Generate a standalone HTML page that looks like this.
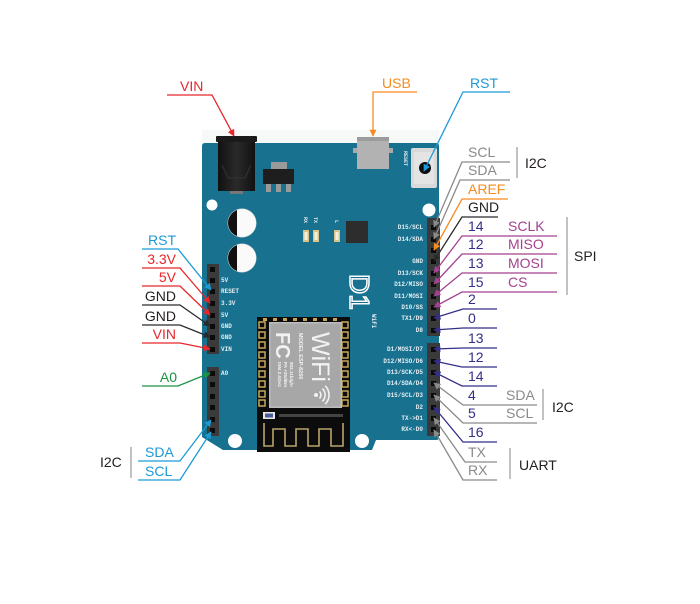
<!DOCTYPE html>
<html>
<head>
<meta charset="utf-8">
<style>
  html,body{margin:0;padding:0;background:#fff;}
  svg{display:block;}
  .lbl{font-family:"Liberation Sans",Arial,sans-serif;font-size:14px;}
  .pin{font-family:"Liberation Mono",monospace;font-size:6px;font-weight:bold;fill:#e6eef2;}
</style>
</head>
<body>
<svg width="700" height="604" viewBox="0 0 700 604" xmlns="http://www.w3.org/2000/svg">
  <defs>
    <marker id="mRed" viewBox="0 0 10 10" refX="9" refY="5" markerWidth="8" markerHeight="7" orient="auto" markerUnits="userSpaceOnUse"><path d="M0,0 L10,5 L0,10 z" fill="#e8262b"/></marker>
    <marker id="mBlue" viewBox="0 0 10 10" refX="9" refY="5" markerWidth="8" markerHeight="7" orient="auto" markerUnits="userSpaceOnUse"><path d="M0,0 L10,5 L0,10 z" fill="#1c9ad6"/></marker>
    <marker id="mOrange" viewBox="0 0 10 10" refX="9" refY="5" markerWidth="8" markerHeight="7" orient="auto" markerUnits="userSpaceOnUse"><path d="M0,0 L10,5 L0,10 z" fill="#f68b1f"/></marker>
    <marker id="mGray" viewBox="0 0 10 10" refX="9" refY="5" markerWidth="8" markerHeight="7" orient="auto" markerUnits="userSpaceOnUse"><path d="M0,0 L10,5 L0,10 z" fill="#8a8a8a"/></marker>
    <marker id="mBlack" viewBox="0 0 10 10" refX="9" refY="5" markerWidth="8" markerHeight="7" orient="auto" markerUnits="userSpaceOnUse"><path d="M0,0 L10,5 L0,10 z" fill="#2a2a2a"/></marker>
    <marker id="mMag" viewBox="0 0 10 10" refX="9" refY="5" markerWidth="8" markerHeight="7" orient="auto" markerUnits="userSpaceOnUse"><path d="M0,0 L10,5 L0,10 z" fill="#a3428f"/></marker>
    <marker id="mNavy" viewBox="0 0 10 10" refX="9" refY="5" markerWidth="8" markerHeight="7" orient="auto" markerUnits="userSpaceOnUse"><path d="M0,0 L10,5 L0,10 z" fill="#332f88"/></marker>
    <marker id="mGreen" viewBox="0 0 10 10" refX="9" refY="5" markerWidth="8" markerHeight="7" orient="auto" markerUnits="userSpaceOnUse"><path d="M0,0 L10,5 L0,10 z" fill="#1a9345"/></marker>
    <linearGradient id="jack" x1="0" x2="1" y1="0" y2="0">
      <stop offset="0" stop-color="#111"/><stop offset="0.5" stop-color="#2a2a2a"/><stop offset="1" stop-color="#111"/>
    </linearGradient>
    <clipPath id="cap1"><circle cx="242" cy="223" r="14"/></clipPath>
    <clipPath id="cap2"><circle cx="242" cy="258" r="14"/></clipPath>
  </defs>

  <!-- faint shadow above board -->
  <rect x="202" y="130" width="237" height="13" fill="#f7f8f8"/>

  <!-- Board -->
  <path d="M205,143 H436 Q439,143 439,146 V437 Q439,440 436,440 H376 L372,450 H223 L202,437 V146 Q202,143 205,143 Z" fill="#17718f"/>

  <!-- DC jack -->
  <rect x="230" y="188" width="13" height="6" fill="#777"/>
  <rect x="218" y="140" width="37" height="51" fill="url(#jack)"/>
  <rect x="216" y="136" width="41" height="6" rx="1" fill="#1a1a1a"/>
  <path d="M222,165 L228,178 H245 L251,165" stroke="#333" stroke-width="1" fill="none"/>

  <!-- regulator -->
  <rect x="271" y="162" width="16" height="8" fill="#9a9a9a"/>
  <rect x="263" y="169" width="31" height="15" fill="#1e1e1e"/>
  <rect x="266" y="184" width="5" height="8" fill="#9a9a9a"/>
  <rect x="276" y="184" width="5" height="8" fill="#9a9a9a"/>
  <rect x="286" y="184" width="5" height="8" fill="#9a9a9a"/>

  <!-- USB -->
  <rect x="353" y="148" width="40" height="5" fill="#a8a8a8"/>
  <rect x="357" y="137" width="32" height="32" fill="#b2b2b2"/>
  <rect x="357" y="137" width="32" height="4" fill="#9c9c9c"/>

  <!-- reset button -->
  <rect x="411" y="148" width="26" height="40" rx="2" fill="#d9d9d9"/>
  <rect x="414" y="152" width="20" height="32" fill="#e4e4e4"/>
  <circle cx="425" cy="168" r="6" fill="#0d0d0d"/>
  <text class="pin" style="font-size:5px" transform="translate(404,151) rotate(90)">RESET</text>

  <!-- mounting holes -->
  <circle cx="212" cy="205" r="5.5" fill="#fff"/>
  <circle cx="429" cy="210" r="6.5" fill="#fff"/>
  <circle cx="235" cy="441" r="7" fill="#fff"/>
  <circle cx="362" cy="441" r="7" fill="#fff"/>

  <!-- capacitors -->
  <circle cx="242" cy="223" r="14.5" fill="#cfd6d8"/>
  <circle cx="242" cy="223" r="14" fill="#fafafa"/>
  <rect x="226" y="208" width="11" height="30" fill="#111" clip-path="url(#cap1)"/>
  <circle cx="242" cy="258" r="14.5" fill="#cfd6d8"/>
  <circle cx="242" cy="258" r="14" fill="#fafafa"/>
  <rect x="226" y="243" width="11" height="30" fill="#111" clip-path="url(#cap2)"/>

  <!-- LEDs -->
  <text class="pin" style="font-size:5px" transform="translate(304,217) rotate(90)">RX</text>
  <text class="pin" style="font-size:5px" transform="translate(314,217) rotate(90)">TX</text>
  <text class="pin" style="font-size:5px" transform="translate(335,220) rotate(90)">L</text>
  <rect x="303" y="230" width="6" height="12" fill="#d8c38a"/><rect x="304.5" y="232" width="3" height="8" fill="#f4efe0"/>
  <rect x="313" y="230" width="6" height="12" fill="#d8c38a"/><rect x="314.5" y="232" width="3" height="8" fill="#f4efe0"/>
  <rect x="334" y="230" width="6" height="12" fill="#d8c38a"/><rect x="335.5" y="232" width="3" height="8" fill="#f4efe0"/>
  <rect x="346" y="221" width="22" height="22" fill="#2d2d2d"/>

  <!-- D1 logo -->
  <text transform="translate(350,274) rotate(90)" style="font-family:'Liberation Sans',sans-serif;font-size:28px;fill:none;stroke:#fff;stroke-width:1.5;">D1</text>
  <text class="pin" style="font-size:6px" transform="translate(372,314) rotate(90)">WiFi</text>

  <!-- Headers left -->
  <rect x="207" y="264" width="12" height="90" fill="#3a3a3a"/>
  <rect x="207" y="367" width="12" height="69" fill="#3a3a3a"/>
  <g fill="#0b0b0b">
    <rect x="210" y="267" width="5" height="5"/><rect x="210" y="278" width="5" height="5"/>
    <rect x="210" y="289" width="5" height="5"/><rect x="210" y="301" width="5" height="5"/>
    <rect x="210" y="313" width="5" height="5"/><rect x="210" y="324" width="5" height="5"/>
    <rect x="210" y="335" width="5" height="5"/><rect x="210" y="347" width="5" height="5"/>
    <rect x="210" y="371" width="5" height="5"/><rect x="210" y="382" width="5" height="5"/>
    <rect x="210" y="394" width="5" height="5"/><rect x="210" y="405" width="5" height="5"/>
    <rect x="210" y="417" width="5" height="5"/><rect x="210" y="428" width="5" height="5"/>
  </g>
  <g class="pin">
    <text x="221" y="282">5V</text>
    <text x="221" y="293">RESET</text>
    <text x="221" y="305">3.3V</text>
    <text x="221" y="317">5V</text>
    <text x="221" y="328">GND</text>
    <text x="221" y="339">GND</text>
    <text x="221" y="351">VIN</text>
    <text x="221" y="375">A0</text>
  </g>

  <!-- Headers right -->
  <rect x="427" y="218" width="13" height="118" fill="#3a3a3a"/>
  <rect x="427" y="343" width="13" height="93" fill="#3a3a3a"/>
  <g fill="#0b0b0b">
    <rect x="431" y="225" width="5" height="5"/><rect x="431" y="237" width="5" height="5"/>
    <rect x="431" y="248" width="5" height="5"/><rect x="431" y="259" width="5" height="5"/>
    <rect x="431" y="271" width="5" height="5"/><rect x="431" y="282" width="5" height="5"/>
    <rect x="431" y="294" width="5" height="5"/><rect x="431" y="305" width="5" height="5"/>
    <rect x="431" y="316" width="5" height="5"/><rect x="431" y="328" width="5" height="5"/>
    <rect x="431" y="347" width="5" height="5"/><rect x="431" y="359" width="5" height="5"/>
    <rect x="431" y="370" width="5" height="5"/><rect x="431" y="381" width="5" height="5"/>
    <rect x="431" y="393" width="5" height="5"/><rect x="431" y="405" width="5" height="5"/>
    <rect x="431" y="416" width="5" height="5"/><rect x="431" y="427" width="5" height="5"/>
  </g>
  <g class="pin" text-anchor="end">
    <text x="423" y="229">D15/SCL</text>
    <text x="423" y="241">D14/SDA</text>
    <text x="423" y="263">GND</text>
    <text x="423" y="275">D13/SCK</text>
    <text x="423" y="286">D12/MISO</text>
    <text x="423" y="298">D11/MOSI</text>
    <text x="423" y="309">D10/SS</text>
    <text x="423" y="320">TX1/D9</text>
    <text x="423" y="332">D8</text>
    <text x="423" y="351">D1/MOSI/D7</text>
    <text x="423" y="363">D12/MISO/D6</text>
    <text x="423" y="374">D13/SCK/D5</text>
    <text x="423" y="385">D14/SDA/D4</text>
    <text x="423" y="397">D15/SCL/D3</text>
    <text x="423" y="409">D2</text>
    <text x="423" y="420">TX-&gt;D1</text>
    <text x="423" y="431">RX&lt;-D0</text>
  </g>

  <!-- ESP module -->
  <rect x="257" y="317" width="93" height="135" fill="#0c0c0c"/>
  <g fill="none" stroke="#c8a85a" stroke-width="1.5">
    <rect x="259" y="322" width="6" height="6"/><rect x="259" y="332" width="6" height="6"/>
    <rect x="259" y="342" width="6" height="6"/><rect x="259" y="352" width="6" height="6"/>
    <rect x="259" y="361" width="6" height="6"/><rect x="259" y="371" width="6" height="6"/>
    <rect x="259" y="381" width="6" height="6"/><rect x="259" y="391" width="6" height="6"/>
    <rect x="259" y="400" width="6" height="6"/>
    <rect x="342" y="322" width="6" height="6"/><rect x="342" y="332" width="6" height="6"/>
    <rect x="342" y="342" width="6" height="6"/><rect x="342" y="352" width="6" height="6"/>
    <rect x="342" y="361" width="6" height="6"/><rect x="342" y="371" width="6" height="6"/>
    <rect x="342" y="381" width="6" height="6"/><rect x="342" y="391" width="6" height="6"/>
    <rect x="342" y="400" width="6" height="6"/>
  </g>
  <g fill="#c8a85a">
    <rect x="263" y="318" width="4" height="3"/><rect x="273" y="318" width="4" height="3"/>
    <rect x="283" y="318" width="4" height="3"/><rect x="293" y="318" width="4" height="3"/>
    <rect x="303" y="318" width="4" height="3"/><rect x="313" y="318" width="4" height="3"/>
    <rect x="323" y="318" width="4" height="3"/><rect x="333" y="318" width="4" height="3"/>
  </g>
  <rect x="269" y="322" width="73" height="86" fill="#bcbcbc"/>
  <rect x="270.5" y="323.5" width="70" height="83" fill="#a7a7a7"/>
  <text transform="translate(312,332) rotate(90)" style="font-family:'Liberation Sans',sans-serif;font-size:25px;fill:#f2f2f2;">WiFi</text>
  <text transform="translate(276,332) rotate(90)" style="font-family:'Liberation Sans',sans-serif;font-size:20px;font-weight:bold;fill:#f2f2f2;">FC</text>
  <text transform="translate(299,333) rotate(90)" style="font-family:'Liberation Sans',sans-serif;font-size:5.5px;font-weight:bold;fill:#f2f2f2;">MODEL  ESP-8266</text>
  <text transform="translate(278,362) rotate(90)" style="font-family:'Liberation Sans',sans-serif;font-size:4.6px;font-weight:bold;fill:#f2f2f2;">ISM 2.4GHz</text>
  <text transform="translate(284,362) rotate(90)" style="font-family:'Liberation Sans',sans-serif;font-size:4.6px;font-weight:bold;fill:#f2f2f2;">PA +25dBm</text>
  <text transform="translate(290,362) rotate(90)" style="font-family:'Liberation Sans',sans-serif;font-size:4.6px;font-weight:bold;fill:#f2f2f2;">802.11b/g/n</text>
  <circle cx="316" cy="395" r="2" fill="#f2f2f2"/>
  <g fill="none" stroke="#f2f2f2" stroke-width="1.6">
    <path d="M319.5,391.5 A5,5 0 0 1 319.5,398.5"/>
    <path d="M322.4,388.6 A9,9 0 0 1 322.4,401.4"/>
    <path d="M325.2,385.8 A13,13 0 0 1 325.2,404.2"/>
  </g>
  <rect x="263" y="412" width="12" height="7" fill="#e8e8e8"/>
  <rect x="265" y="413.5" width="8" height="4" fill="#4a5a9a"/>
  <g fill="#444">
    <rect x="279" y="414" width="64" height="3"/>
  </g>
  <path d="M264,423 V446 H273 V429 H285 V446 H296 V429 H308 V446 H319 V429 H331 V446 H343 V423" fill="none" stroke="#b8a46c" stroke-width="1.6"/>

  <!-- ===== Connectors ===== -->
  <g fill="none" stroke-width="1.3">
    <!-- top -->
    <path d="M167,95 H212 L234,136" stroke="#e8262b" marker-end="url(#mRed)"/>
    <path d="M417,92 H373 V136" stroke="#f68b1f" marker-end="url(#mOrange)"/>
    <path d="M510,92 H463 L424,171" stroke="#1c9ad6" marker-end="url(#mBlue)"/>
    <!-- left -->
    <path d="M142,249 H178 L211,290" stroke="#1c9ad6" marker-end="url(#mBlue)"/>
    <path d="M142,268 H180 L210,303" stroke="#e8262b" marker-end="url(#mRed)"/>
    <path d="M142,286 H180 L210,315" stroke="#e8262b" marker-end="url(#mRed)"/>
    <path d="M142,305 H180 L210,326" stroke="#2a2a2a" marker-end="url(#mBlack)"/>
    <path d="M142,325 H180 L210,337" stroke="#2a2a2a" marker-end="url(#mBlack)"/>
    <path d="M142,343 H180 L210,349" stroke="#e8262b" marker-end="url(#mRed)"/>
    <path d="M142,386 H178 L210,373" stroke="#1a9345" marker-end="url(#mGreen)"/>
    <path d="M138,461 H180 L211,420" stroke="#1c9ad6" marker-end="url(#mBlue)"/>
    <path d="M138,480 H180 L211,432" stroke="#1c9ad6" marker-end="url(#mBlue)"/>
    <!-- right -->
    <path d="M510,162 H462 L434,227" stroke="#8a8a8a" marker-end="url(#mGray)"/>
    <path d="M510,180 H460 L434,239" stroke="#8a8a8a" marker-end="url(#mGray)"/>
    <path d="M508,199 H462 L434,250" stroke="#f68b1f" marker-end="url(#mOrange)"/>
    <path d="M498,217 H462 L434,261" stroke="#2a2a2a" marker-end="url(#mBlack)"/>
    <path d="M557,236 H462 L434,273" stroke="#a3428f" marker-end="url(#mMag)"/>
    <path d="M557,254 H462 L434,284" stroke="#a3428f" marker-end="url(#mMag)"/>
    <path d="M557,273 H462 L434,296" stroke="#a3428f" marker-end="url(#mMag)"/>
    <path d="M557,292 H462 L434,307" stroke="#a3428f" marker-end="url(#mMag)"/>
    <path d="M497,309 H463 L434,318" stroke="#332f88" marker-end="url(#mNavy)"/>
    <path d="M497,328 H463 L434,330" stroke="#332f88" marker-end="url(#mNavy)"/>
    <path d="M497,348 H463 L434,349" stroke="#332f88" marker-end="url(#mNavy)"/>
    <path d="M497,367 H462 L434,361" stroke="#332f88" marker-end="url(#mNavy)"/>
    <path d="M497,386 H462 L434,372" stroke="#332f88" marker-end="url(#mNavy)"/>
    <path d="M537,405 H463 L434,383" stroke="#8a8a8a" marker-end="url(#mGray)"/>
    <path d="M537,423 H463 L434,395" stroke="#8a8a8a" marker-end="url(#mGray)"/>
    <path d="M497,442 H463 L434,407" stroke="#332f88" marker-end="url(#mNavy)"/>
    <path d="M497,462 H465 L434,418" stroke="#8a8a8a" marker-end="url(#mGray)"/>
    <path d="M497,480 H463 L434,430" stroke="#8a8a8a" marker-end="url(#mGray)"/>
  </g>

  <!-- group bars -->
  <g stroke="#9a9a9a" stroke-width="1.2">
    <line x1="517" y1="147" x2="517" y2="178"/>
    <line x1="567" y1="217" x2="567" y2="295"/>
    <line x1="543" y1="389" x2="543" y2="420"/>
    <line x1="510" y1="448" x2="510" y2="479"/>
    <line x1="131" y1="447" x2="131" y2="478"/>
  </g>

  <!-- ===== Labels ===== -->
  <g class="lbl">
    <!-- top -->
    <text x="180" y="91" fill="#e8262b">VIN</text>
    <text x="382" y="88" fill="#f68b1f">USB</text>
    <text x="470" y="88" fill="#1c9ad6">RST</text>
    <!-- left -->
    <g text-anchor="end">
      <text x="176" y="245" fill="#1c9ad6">RST</text>
      <text x="176" y="264" fill="#e8262b">3.3V</text>
      <text x="176" y="282" fill="#e8262b">5V</text>
      <text x="176" y="301" fill="#231f20">GND</text>
      <text x="176" y="321" fill="#231f20">GND</text>
      <text x="176" y="339" fill="#e8262b">VIN</text>
      <text x="177" y="382" fill="#1a9345">A0</text>
    </g>
    <text x="145" y="457" fill="#1c9ad6">SDA</text>
    <text x="145" y="476" fill="#1c9ad6">SCL</text>
    <text x="100" y="467" fill="#231f20">I2C</text>
    <!-- right -->
    <text x="468" y="157" fill="#8a8a8a">SCL</text>
    <text x="468" y="175" fill="#8a8a8a">SDA</text>
    <text x="468" y="194" fill="#f68b1f">AREF</text>
    <text x="468" y="212" fill="#231f20">GND</text>
    <text x="468" y="231" fill="#332f88">14</text>
    <text x="508" y="231" fill="#a3428f">SCLK</text>
    <text x="468" y="249" fill="#332f88">12</text>
    <text x="508" y="249" fill="#a3428f">MISO</text>
    <text x="468" y="268" fill="#332f88">13</text>
    <text x="508" y="268" fill="#a3428f">MOSI</text>
    <text x="468" y="287" fill="#332f88">15</text>
    <text x="508" y="287" fill="#a3428f">CS</text>
    <text x="468" y="304" fill="#332f88">2</text>
    <text x="468" y="323" fill="#332f88">0</text>
    <text x="468" y="343" fill="#332f88">13</text>
    <text x="468" y="362" fill="#332f88">12</text>
    <text x="468" y="381" fill="#332f88">14</text>
    <text x="468" y="400" fill="#332f88">4</text>
    <text x="506" y="400" fill="#8a8a8a">SDA</text>
    <text x="468" y="418" fill="#332f88">5</text>
    <text x="506" y="418" fill="#8a8a8a">SCL</text>
    <text x="468" y="437" fill="#332f88">16</text>
    <text x="468" y="457" fill="#8a8a8a">TX</text>
    <text x="468" y="475" fill="#8a8a8a">RX</text>
    <!-- groups -->
    <text x="525" y="168" fill="#231f20">I2C</text>
    <text x="574" y="261" fill="#231f20">SPI</text>
    <text x="552" y="412" fill="#231f20">I2C</text>
    <text x="519" y="470" fill="#231f20">UART</text>
  </g>
</svg>
</body>
</html>
